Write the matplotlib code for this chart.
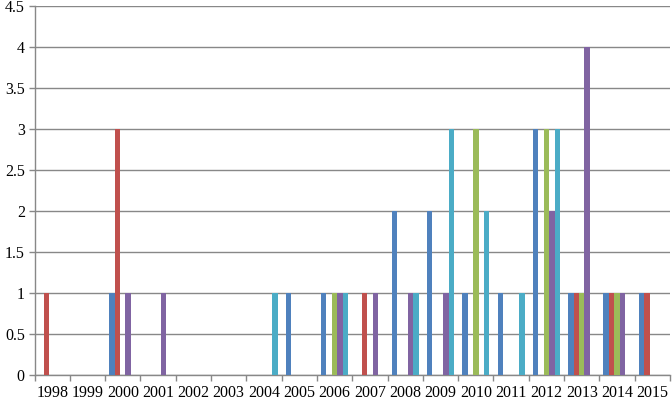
import matplotlib
matplotlib.use('Agg')
import matplotlib.pyplot as plt
import numpy as np

years = ['1998', '1999', '2000', '2001', '2002', '2003', '2004', '2005', '2006',
         '2007', '2008', '2009', '2010', '2011', '2012', '2013', '2014', '2015']

# five series, one value per year (0 = no bar)
series1 = [0, 0, 1, 0, 0, 0, 0, 1, 1, 0, 2, 2, 1, 1, 3, 1, 1, 1]
series2 = [1, 0, 3, 0, 0, 0, 0, 0, 0, 1, 0, 0, 0, 0, 0, 1, 1, 1]
series3 = [0, 0, 0, 0, 0, 0, 0, 0, 1, 0, 0, 0, 3, 0, 3, 1, 1, 0]
series4 = [0, 0, 1, 1, 0, 0, 0, 0, 1, 1, 1, 1, 0, 0, 2, 4, 1, 0]
series5 = [0, 0, 0, 0, 0, 0, 1, 0, 1, 0, 1, 3, 2, 1, 3, 0, 0, 0]

colors = ['#4F81BD', '#C0504D', '#9BBB59', '#8064A2', '#4BACC6']
all_series = [series1, series2, series3, series4, series5]

plt.rcParams['font.family'] = ['Liberation Serif', 'DejaVu Serif']

fig = plt.figure(figsize=(6.72, 4.0), dpi=100)
ax = fig.add_axes([34.5 / 672, 25 / 400, (670 - 34.5) / 672, (375 - 6) / 400])

n = len(all_series)
w = 1 / 6.5
x = np.arange(len(years))
for i, (vals, c) in enumerate(zip(all_series, colors)):
    offs = (i - (n - 1) / 2) * w
    ax.bar(x + offs, vals, width=w, color=c, linewidth=0, zorder=3)

ax.set_xlim(-0.5, len(years) - 0.5)
ax.set_ylim(0, 4.5)
ax.set_yticks(np.arange(0, 4.51, 0.5))
ax.set_yticklabels(['0', '0.5', '1', '1.5', '2', '2.5', '3', '3.5', '4', '4.5'])
ax.set_xticks(x)
ax.set_xticklabels(years)
ax.set_xticks(np.arange(-0.5, len(years), 1), minor=True)

ax.grid(axis='y', color='#888888', linewidth=1.0, zorder=0)
for s in ['top', 'right']:
    ax.spines[s].set_visible(False)
for s in ['left', 'bottom']:
    ax.spines[s].set_color('#888888')
    ax.spines[s].set_linewidth(1.0)

ax.tick_params(axis='x', which='major', length=0, pad=7, labelsize=11.5)
ax.tick_params(axis='x', which='minor', length=4, color='#888888', width=1)
ax.tick_params(axis='y', length=4, color='#888888', width=1, pad=3, labelsize=11.5)

fig.savefig('out.png', dpi=100)
